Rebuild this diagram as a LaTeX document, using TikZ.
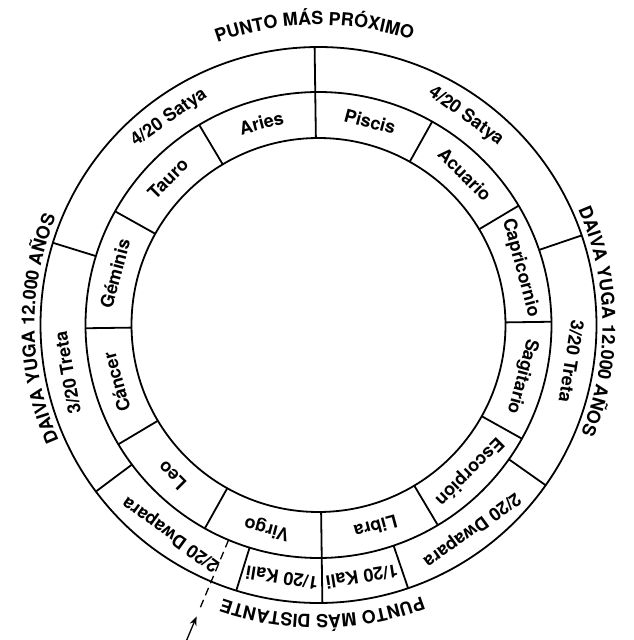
\documentclass[tikz,border=0pt]{standalone}
\usepackage{fontspec}
\setmainfont{TeX Gyre Heros}
\usetikzlibrary{arrows.meta,decorations.text}

\newcommand{\lblfont}{\fontsize{18}{21}\selectfont\bfseries}

\begin{document}
\begin{tikzpicture}[x=1pt,y=1pt,
  ring/.style={line width=1.8pt},
  sign/.style={font=\lblfont, inner sep=0pt},
  curved/.style={decorate, decoration={text along path, text align=center, text={|\lblfont|#1}}}]
\useasboundingbox (-318.5,-315) rectangle (314.5,325);
\begin{scope}[rotate=0.8]
\def\rin{187}
\def\rmid{233}
\def\rout{278}
\draw[ring] (0,0) circle (\rin);
\draw[ring] (0,0) circle (\rmid);
\draw[ring] (0,0) circle (\rout);
% yugas
\draw[ring] (90:\rin) -- (90:\rout);
\draw[ring] (270:\rin) -- (270:\rout);
\draw[ring] (162:\rmid) -- (162:\rout);
\draw[ring] (18:\rmid) -- (18:\rout);
\draw[ring] (216:\rmid) -- (216:\rout);
\draw[ring] (-36:\rmid) -- (-36:\rout);
\draw[ring] (252:\rmid) -- (252:\rout);
\draw[ring] (-72:\rmid) -- (-72:\rout);
% signos
\draw[ring] (0:\rin) -- (0:\rmid);
\draw[ring] (30:\rin) -- (30:\rmid);
\draw[ring] (60:\rin) -- (60:\rmid);
\draw[ring] (120:\rin) -- (120:\rmid);
\draw[ring] (150:\rin) -- (150:\rmid);
\draw[ring] (180:\rin) -- (180:\rmid);
\draw[ring] (210:\rin) -- (210:\rmid);
\draw[ring] (240:\rin) -- (240:\rmid);
\draw[ring] (300:\rin) -- (300:\rmid);
\draw[ring] (330:\rin) -- (330:\rmid);
\path (105:210) node[sign, rotate=15] (aries) {Aries};
\path (135:210) node[sign, rotate=45] (tauro) {Tauro};
\path (165:210) node[sign, rotate=75] (geminis) {Géminis};
\path (195:210) node[sign, rotate=105] (cancer) {Cáncer};
\path (225:210) node[sign, rotate=135] (leo) {Leo};
\path (255:210) node[sign, rotate=165] (virgo) {Virgo};
\path (285:210) node[sign, rotate=195] (libra) {Libra};
\path (315:210) node[sign, rotate=225] (escorpion) {Escorpión};
\path (345:210) node[sign, rotate=255] (sagitario) {Sagitario};
\path (15:210) node[sign, rotate=-75] (capricornio) {Capricornio};
\path (45:210) node[sign, rotate=-45] (acuario) {Acuario};
\path (75:210) node[sign, rotate=-15] (piscis) {Piscis};
\path (125:255.5) node[sign, rotate=35] (satyaL) {4/20 Satya};
\path (54:255.5) node[sign, rotate=-36] (satyaR) {4/20 Satya};
\path (190:255.5) node[sign, rotate=100] (tretaL) {3/20 Treta};
\path (-9:255.5) node[sign, rotate=-99] (tretaR) {3/20 Treta};
\path (234:255.5) node[sign, rotate=144] (dwaparaL) {2/20 Dwapara};
\path (-54:255.5) node[sign, rotate=-144] (dwaparaR) {2/20 Dwapara};
\path (261:255.5) node[sign, rotate=171] (kaliL) {1/20 Kali};
\path (-81:255.5) node[sign, rotate=-171] (kaliR) {1/20 Kali};
% textos curvos
\path[curved={PUNTO MÁS PRÓXIMO}] (150:300) arc[start angle=150, end angle=30, radius=300];
\path[curved={DAIVA YUGA 12.000 AÑOS}] (40:284) arc[start angle=40, end angle=-40, radius=284];
\path[curved={DAIVA YUGA 12.000 AÑOS}] (220:284) arc[start angle=220, end angle=140, radius=284];
\path[curved={PUNTO MÁS DISTANTE}] (-40:290) arc[start angle=-40, end angle=-140, radius=290];
% flecha
\coordinate (dstart) at (246.5:\rmid);
\coordinate (dend) at (246.5:306);
\coordinate (atail) at (246.5:345);
\coordinate (atip) at (246.5:316);
\draw[dash pattern=on 8pt off 5pt, line width=1.3pt] (dstart) -- (dend);
\draw[-{Stealth[length=9pt,width=7pt]}, line width=1.3pt] (atail) -- (atip);
\end{scope}
\end{tikzpicture}
\end{document}
